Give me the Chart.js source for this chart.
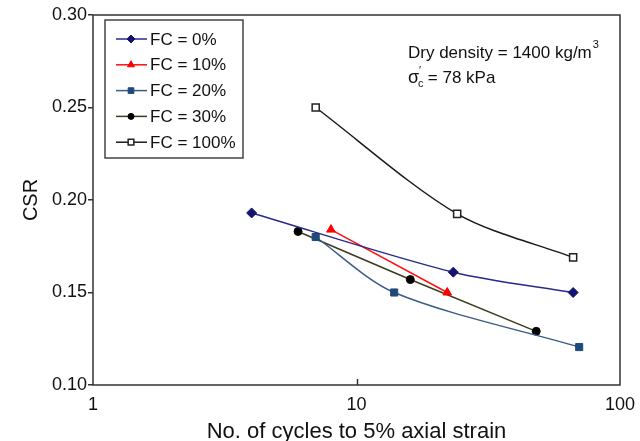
<!DOCTYPE html>
<html>
<head>
<meta charset="utf-8">
<script src="https://cdn.jsdelivr.net/npm/chart.js@4"></script>
<style>
  html, body { margin: 0; padding: 0; background: #fff; }
  #wrap { width: 640px; height: 441px; position: relative; }
</style>
</head>
<body>
<div id="wrap"><canvas id="grafico"></canvas></div>
<script>
// Datos (N ciclos vs CSR)
const seriesLabels = ['FC = 0%', 'FC = 10%', 'FC = 20%', 'FC = 30%', 'FC = 100%'];
const ciclosFC0 = [4.0, 23.3, 66.4];
const csrFC0 = [0.193, 0.161, 0.150];
const ciclosFC10 = [8.0, 22.1];
const csrFC10 = [0.184, 0.150];
const ciclosFC20 = [7.0, 13.9, 70.0];
const csrFC20 = [0.180, 0.150, 0.1205];
const ciclosFC30 = [6.0, 16.0, 48.1];
const csrFC30 = [0.183, 0.157, 0.129];
const ciclosFC100 = [7.0, 24.1, 66.4];
const csrFC100 = [0.250, 0.1925, 0.169];
const xTicks = [1, 10, 100];
const yTicks = [0.10, 0.15, 0.20, 0.25, 0.30];

const FUENTE = '"Liberation Sans", Arial, sans-serif';

function puntos(xs, ys) {
    return xs.map((x, i) => ({ x: x, y: ys[i] }));
}

const datasets = [
    { label: seriesLabels[0], data: puntos(ciclosFC0, csrFC0), borderColor: '#2a2a8a', backgroundColor: '#14146e',
      pointStyle: 'rectRot', pointRadius: 5, tension: 0.3 },
    { label: seriesLabels[1], data: puntos(ciclosFC10, csrFC10), borderColor: '#ff1010', backgroundColor: '#ff0000',
      pointStyle: 'triangle', pointRadius: 5, tension: 0 },
    { label: seriesLabels[2], data: puntos(ciclosFC20, csrFC20), borderColor: '#3a5c88', backgroundColor: '#1f4a78',
      pointStyle: 'rect', pointRadius: 5, tension: 0.3 },
    { label: seriesLabels[3], data: puntos(ciclosFC30, csrFC30), borderColor: '#3d3b1e', backgroundColor: '#000000',
      pointStyle: 'circle', pointRadius: 4, tension: 0 },
    { label: seriesLabels[4], data: puntos(ciclosFC100, csrFC100), borderColor: '#1a1a1a', backgroundColor: '#ffffff',
      pointStyle: 'rect', pointRadius: 5, tension: 0.3, pointBorderColor: '#222', pointBorderWidth: 1.5 }
];
datasets.forEach(d => {
    d.borderWidth = 1.5;
    d.pointBorderColor = d.pointBorderColor || d.backgroundColor;
    d.pointBackgroundColor = d.backgroundColor;
    d.pointBorderWidth = d.pointBorderWidth || 1;
    d.pointHoverRadius = d.pointRadius;
});

// Marco, marca interior en x=10, leyenda y anotacion
const extras = {
    id: 'extras',
    afterDraw(chart) {
        const ctx = chart.ctx;
        const a = chart.chartArea;
        const xs = chart.scales.x;
        ctx.save();
        ctx.strokeStyle = '#333';
        ctx.lineWidth = 1.5;
        ctx.strokeRect(a.left, a.top, a.right - a.left, a.bottom - a.top);
        const px = Math.round(xs.getPixelForValue(10)) + 0.5;
        ctx.beginPath();
        ctx.moveTo(px, a.bottom);
        ctx.lineTo(px, a.bottom - 6);
        ctx.stroke();

        // leyenda
        const lx = 105, ly = 20, lw = 138, lh = 138;
        ctx.fillStyle = '#fff';
        ctx.fillRect(lx, ly, lw, lh);
        ctx.strokeStyle = '#444';
        ctx.lineWidth = 1.5;
        ctx.strokeRect(lx, ly, lw, lh);
        ctx.font = '17px ' + FUENTE;
        ctx.textBaseline = 'middle';
        chart.data.datasets.forEach((d, i) => {
            const y = 39 + i * 25.8;
            ctx.strokeStyle = d.borderColor;
            ctx.lineWidth = 1.5;
            ctx.beginPath();
            ctx.moveTo(116, y);
            ctx.lineTo(147, y);
            ctx.stroke();
            ctx.fillStyle = d.pointBackgroundColor;
            ctx.strokeStyle = d.pointBorderColor;
            ctx.lineWidth = d.pointBorderWidth;
            Chart.helpers.drawPoint(ctx, { pointStyle: d.pointStyle, radius: d.pointRadius - 1, rotation: 0, borderWidth: d.pointBorderWidth }, 131, y);
            ctx.fillStyle = '#111';
            ctx.fillText(d.label, 150, y + 1);
        });

        // anotacion
        ctx.fillStyle = '#111';
        ctx.font = '17px ' + FUENTE;
        ctx.fillText('Dry density = 1400 kg/m', 408, 53);
        const w = ctx.measureText('Dry density = 1400 kg/m').width;
        ctx.font = '11px ' + FUENTE;
        ctx.fillText('3', 408 + w + 1, 45);
        ctx.font = '18px ' + FUENTE;
        ctx.fillText('\u03C3', 408, 78);
        const ws = ctx.measureText('\u03C3').width;
        ctx.font = '11px ' + FUENTE;
        ctx.fillText('\u2032', 408 + ws, 71);
        ctx.fillText('c', 408 + ws - 1, 84);
        ctx.font = '17px ' + FUENTE;
        ctx.fillText(' = 78 kPa', 408 + ws + 4, 78);
        ctx.restore();
    }
};

const ctx = document.getElementById('grafico').getContext('2d');
new Chart(ctx, {
    type: 'line',
    data: { datasets: datasets },
    options: {
        responsive: true,
        maintainAspectRatio: false,
        animation: false,
        layout: { padding: { top: 15, right: 20, left: 0, bottom: 0 } },
        plugins: { legend: { display: false }, tooltip: { enabled: false } },
        scales: {
            x: {
                type: 'logarithmic',
                min: 1,
                max: 100,
                afterBuildTicks: s => { s.ticks = xTicks.map(v => ({ value: v })); },
                afterFit: s => { s.height = 56; },
                grid: { display: false },
                border: { display: false },
                ticks: {
                    color: '#111',
                    font: { family: FUENTE, size: 18 },
                    padding: 1,
                    maxRotation: 0,
                    autoSkip: false,
                    callback: v => String(v)
                },
                title: {
                    display: true,
                    text: 'No. of cycles to 5% axial strain',
                    color: '#111',
                    font: { family: FUENTE, size: 22, lineHeight: 0.8 },
                    padding: { top: 0, bottom: 0 }
                }
            },
            y: {
                min: 0.10,
                max: 0.30,
                afterBuildTicks: s => { s.ticks = yTicks.map(v => ({ value: v })); },
                afterFit: s => { s.width = 93; },
                grid: { drawOnChartArea: false, drawTicks: true, tickLength: 5, color: '#333', lineWidth: 1.5 },
                border: { display: false },
                ticks: {
                    color: '#111',
                    font: { family: FUENTE, size: 18 },
                    padding: 1,
                    callback: v => v.toFixed(2)
                },
                title: {
                    display: true,
                    text: 'CSR',
                    color: '#111',
                    font: { family: FUENTE, size: 20 },
                    padding: { top: 19, bottom: 0 }
                }
            }
        }
    },
    plugins: [extras]
});
</script>
</body>
</html>
